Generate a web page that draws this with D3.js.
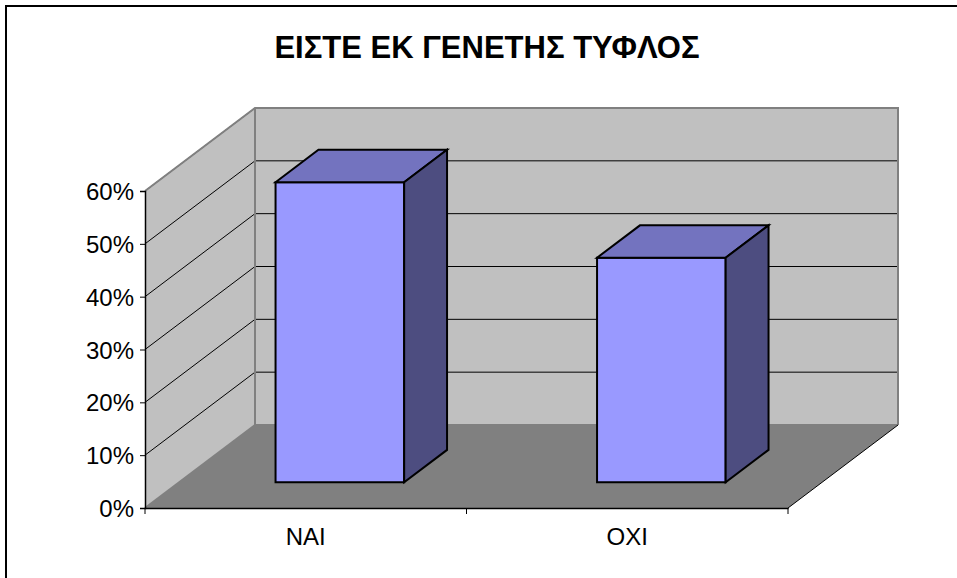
<!DOCTYPE html>
<html lang="el">
<head>
  <meta charset="utf-8">
  <title>ΕΙΣΤΕ ΕΚ ΓΕΝΕΤΗΣ ΤΥΦΛΟΣ</title>
  <script src="https://d3js.org/d3.v7.min.js"></script>
  <style>
    body { margin: 0; background: white; }
    text { font-family: "Liberation Sans", Arial, sans-serif; fill: black; }
    .title { font-size: 31px; font-weight: bold; }
    .tick-label { font-size: 24px; }
  </style>
</head>
<body>
  <svg width="957" height="578"></svg>
  <script>
    // data
    var categories = ["ΝΑΙ", "ΟΧΙ"];
    var values = [0.568, 0.425];
    var yTicks = [0, 0.1, 0.2, 0.3, 0.4, 0.5, 0.6];

    var svg = d3.select("svg");

    // outer frame
    svg.append("rect")
      .attr("x", 6).attr("y", 6)
      .attr("width", 960).attr("height", 590)
      .attr("fill", "white").attr("stroke", "black").attr("stroke-width", 2);

    svg.append("text").attr("class", "title")
      .attr("x", 487).attr("y", 58)
      .attr("text-anchor", "middle")
      .text("ΕΙΣΤΕ ΕΚ ΓΕΝΕΤΗΣ ΤΥΦΛΟΣ");

    // scales (front plane) + depth vector
    var y = d3.scaleLinear().domain([0, 0.6]).range([508, 191]);
    var x = d3.scaleBand().domain(categories).range([145, 788]);
    var depth = { dx: 110, dy: 83 };

    function p(px, v, z) {
      return [px + z * depth.dx, y(v) - z * depth.dy];
    }
    function poly(pts) { return "M" + pts.map(d => d.join(",")).join("L") + "Z"; }

    var x0 = x.range()[0], x1 = x.range()[1], vMax = y.domain()[1];

    // walls and floor
    svg.append("path")
      .attr("d", poly([p(x0, 0, 1), p(x0, vMax, 1), p(x1, vMax, 1), p(x1, 0, 1)]))
      .attr("fill", "#c0c0c0");
    svg.append("path")
      .attr("d", poly([p(x0, 0, 0), p(x0, vMax, 0), p(x0, vMax, 1), p(x0, 0, 1)]))
      .attr("fill", "#c0c0c0");
    svg.append("path")
      .attr("d", poly([p(x0, 0, 0), p(x0, 0, 1), p(x1, 0, 1), p(x1, 0, 0)]))
      .attr("fill", "#808080");

    // gridlines
    var grid = svg.append("g").attr("stroke", "black").attr("stroke-width", 1).attr("fill", "none");
    yTicks.filter(t => t > 0).forEach(function (t) {
      grid.append("path").attr("d", "M" + p(x0, t, 0) + "L" + p(x0, t, 1) + "L" + p(x1, t, 1));
    });

    // wall edges
    var edge = svg.append("g").attr("stroke", "#808080").attr("stroke-width", 2).attr("fill", "none");
    edge.append("path").attr("d", "M" + p(x0, vMax, 0) + "L" + p(x0, vMax, 1) + "L" + p(x1, vMax, 1) + "L" + p(x1, 0, 1));
    edge.append("path").attr("d", "M" + p(x0, vMax, 1) + "L" + p(x0, 0, 1) + "L" + p(x1, 0, 1));
    edge.append("path").attr("d", "M" + p(x0, 0, 0) + "L" + p(x0, 0, 1));
    svg.append("path").attr("d", "M" + p(x1, 0, 0) + "L" + p(x1, 0, 1))
      .attr("stroke", "black").attr("stroke-width", 1);

    // bars
    var z0 = 0.31, z1 = 0.70;
    var bw = x.bandwidth() / 2.5;
    var bars = svg.append("g").attr("stroke", "black").attr("stroke-width", 2).attr("stroke-linejoin", "miter");
    categories.forEach(function (c, i) {
      var l = x(c) + (x.bandwidth() - bw) / 2, r = l + bw, v = values[i];
      bars.append("path").attr("fill", "#9999ff")
        .attr("d", poly([p(l, 0, z0), p(l, v, z0), p(r, v, z0), p(r, 0, z0)]));
      bars.append("path").attr("fill", "#7373bf")
        .attr("d", poly([p(l, v, z0), p(l, v, z1), p(r, v, z1), p(r, v, z0)]));
      bars.append("path").attr("fill", "#4d4d80")
        .attr("d", poly([p(r, 0, z0), p(r, v, z0), p(r, v, z1), p(r, 0, z1)]));
    });

    // y axis
    var yAxis = d3.axisLeft(y).tickValues(yTicks).tickFormat(d3.format(".0%")).tickSizeOuter(0).tickSize(5).tickPadding(6);
    var ya = svg.append("g").attr("transform", "translate(" + x0 + ",0)").call(yAxis);
    ya.select(".domain").attr("stroke", "black").attr("stroke-width", 1.5);
    ya.selectAll(".tick text").attr("class", "tick-label").attr("font-family", null).attr("font-size", null).attr("dy", "0.36em");

    // x axis
    var xAxis = d3.axisBottom(x).tickSize(0).tickPadding(20).tickSizeOuter(0);
    var xa = svg.append("g").attr("transform", "translate(0," + y(0) + ")").call(xAxis);
    xa.select(".domain").attr("stroke", "black").attr("stroke-width", 1.5);
    xa.selectAll(".tick text").attr("class", "tick-label").attr("font-family", null).attr("font-size", null);
    // category boundary ticks
    xa.selectAll(".sep").data([x0, x0 + x.bandwidth(), x1]).join("line")
      .attr("class", "sep").attr("x1", d => d).attr("x2", d => d)
      .attr("y1", 0).attr("y2", 6).attr("stroke", "black");
  </script>
</body>
</html>
